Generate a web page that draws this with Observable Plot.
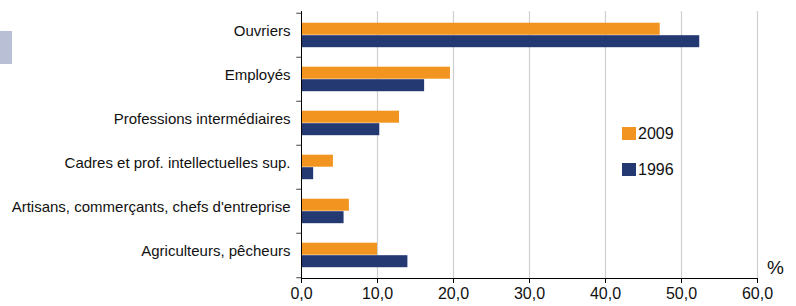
<!DOCTYPE html>
<html>
<head>
<meta charset="utf-8">
<script src="https://cdn.jsdelivr.net/npm/d3@7"></script>
<script src="https://cdn.jsdelivr.net/npm/@observablehq/plot@0.6"></script>
<style>
  body { margin: 0; background: #fff; font-family: "Liberation Sans", Arial, sans-serif; }
  #wrap { position: relative; width: 796px; height: 306px; overflow: hidden; }
  #deco { position: absolute; left: 0; top: 31px; width: 12px; height: 33px; background: #b9c0d5; }
  #legend { position: absolute; left: 622px; top: 126px; font-size: 16px; color: #111; }
  .item { display: flex; align-items: center; height: 15px; margin-bottom: 21px; }
  .sw { width: 14px; height: 13px; margin-right: 2px; }
</style>
</head>
<body>
<div id="wrap"><div id="deco"></div></div>
<script>
const categories = [
  "Ouvriers",
  "Employés",
  "Professions intermédiaires",
  "Cadres et prof. intellectuelles sup.",
  "Artisans, commerçants, chefs d'entreprise",
  "Agriculteurs, pêcheurs"
];
const years = ["2009", "1996"];
const values2009 = [47.2, 19.6, 12.9, 4.2, 6.3, 10.0];
const values1996 = [52.4, 16.2, 10.3, 1.6, 5.6, 14.0];
const xTicks = [0, 10, 20, 30, 40, 50, 60];
const colors = ["#f29420", "#243872"];

const rows2009 = categories.map((c, i) => ({category: c, year: "2009", value: values2009[i]}));
const rows1996 = categories.map((c, i) => ({category: c, year: "1996", value: values1996[i]}));

const half = (278 - 11) / 6 / 2;

const chart = Plot.plot({
  width: 796,
  height: 306,
  marginLeft: 301,
  marginRight: 39,
  marginTop: 11,
  marginBottom: 28,
  style: {fontFamily: "'Liberation Sans', Arial, sans-serif", fontSize: "15px", color: "#111", background: "white", overflow: "visible"},
  x: {domain: [0, 60], ticks: xTicks},
  y: {domain: categories, padding: 0},
  color: {domain: years, range: colors},
  marks: [
    Plot.ruleX(xTicks.slice(1), {stroke: "#cfcfcf", strokeWidth: 1.2}),
    Plot.barX(rows2009, {x: "value", y: "category", fill: "year", insetTop: 9.7, insetBottom: 22.3}),
    Plot.barX(rows1996, {x: "value", y: "category", fill: "year", insetTop: 22.2, insetBottom: 9.8}),
    Plot.ruleY(categories, {y: d => d, x1: -0.62, x2: 0, dy: -half, stroke: "#444"}),
    Plot.ruleY([categories[categories.length - 1]], {y: d => d, x1: -0.62, x2: 0, dy: half, stroke: "#444"}),
    Plot.frame({anchor: "left", stroke: "#000"}),
    Plot.frame({anchor: "bottom", stroke: "#000"}),
    Plot.axisX({ticks: xTicks, tickFormat: d => d.toFixed(1).replace(".", ","), tickSize: 5, tickPadding: 4, label: null, fontSize: 16, stroke: "#000"}),
    Plot.axisY({tickSize: 0, tickPadding: 11, label: null, dy: -4, fontSize: 15}),
    Plot.text(["%"], {frameAnchor: "bottom-right", text: d => d, dx: 18, dy: -5, fontSize: 19, textAnchor: "middle"})
  ]
});
const wrap = document.getElementById("wrap");
wrap.appendChild(chart);

const legend = document.createElement("div");
legend.id = "legend";
years.forEach((y, i) => {
  const item = document.createElement("div");
  item.className = "item";
  const sw = document.createElement("span");
  sw.className = "sw";
  sw.style.background = colors[i];
  const t = document.createElement("span");
  t.textContent = y;
  item.appendChild(sw);
  item.appendChild(t);
  legend.appendChild(item);
});
wrap.appendChild(legend);
</script>
</body>
</html>
